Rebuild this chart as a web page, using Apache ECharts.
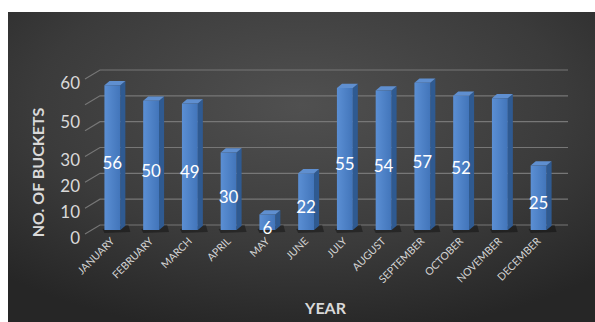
<!DOCTYPE html>
<html>
<head>
<meta charset="utf-8">
<script src="https://cdn.jsdelivr.net/npm/echarts@6/dist/echarts.min.js"></script>
<style>
html,body{margin:0;padding:0;background:#fff;width:595px;height:322px;overflow:hidden;}
#chart{position:absolute;left:8px;top:12px;width:587px;height:310px;}
</style>
</head>
<body>
<div id="chart"></div>
<script>
const months = ['JANUARY','FEBRUARY','MARCH','APRIL','MAY','JUNE','JULY','AUGUST','SEPTEMBER','OCTOBER','NOVEMBER','DECEMBER'];
const buckets = [56,50,49,30,6,22,55,54,57,52,51,25];
const hiddenValueLabels = ['NOVEMBER'];
const yTicks = [0,10,20,30,40,50,60];
const yTickLabels = ['0','10','20','30','','50','60'];
const xAxisTitle = 'YEAR';
const yAxisTitle = 'NO. OF BUCKETS';

const chart = echarts.init(document.getElementById('chart'), null, {renderer:'svg'});
const font = 'Lato, "Open Sans", sans-serif';

chart.setOption({
  backgroundColor: {
    type:'radial', x:0.5, y:0.3, r:0.75,
    colorStops:[{offset:0,color:'#505050'},{offset:0.6,color:'#3b3b3b'},{offset:1,color:'#262626'}]
  },
  animation:false,
  grid:{left:85, right:37, top:63, bottom:92},
  xAxis:{
    type:'category', data: months,
    name: xAxisTitle, nameLocation:'middle', nameGap:69,
    nameTextStyle:{color:'#d9d9d9', fontSize:16, fontWeight:'bold', fontFamily:font},
    axisLine:{show:false}, axisTick:{show:false},
    axisLabel:{interval:0, rotate:45, margin:9, color:'#d4d4d4', fontSize:10.5, fontFamily:font}
  },
  yAxis:{
    type:'value', min:0, max:60, interval:10,
    name: yAxisTitle, nameLocation:'middle', nameGap:48, nameRotate:90,
    nameTextStyle:{color:'#d9d9d9', fontSize:16, fontWeight:'bold', fontFamily:font, padding:[0,40,0,0]},
    axisLine:{show:false}, axisTick:{show:false}, splitLine:{show:false},
    axisLabel:{
      margin:13,
      formatter:function(v){
        const idx = yTicks.indexOf(v);
        const t = idx>=0 ? yTickLabels[idx] : '';
        if(!t) return '';
        return v===50 ? '{b|'+t+'}' : '{a|'+t+'}';
      },
      rich:{
        a:{color:'#d9d9d9', fontSize:17, fontFamily:font, padding:[14,0,0,0]},
        b:{color:'#d9d9d9', fontSize:17, fontFamily:font, padding:[42,0,0,0]}
      }
    }
  },
  series:[
    {
      type:'custom', z:1, clip:false, silent:true,
      data: yTicks.map(v=>[0,v]),
      renderItem:function(params, api){
        const cs = params.coordSys;
        const y = api.coord([0, api.value(1)])[1];
        return {
          type:'polyline',
          shape:{points:[[cs.x-8, y+4],[cs.x+7, y-5],[cs.x+cs.width+10, y-5]]},
          style:{stroke:'#777777', lineWidth:1.1, fill:null}
        };
      }
    },
    {
      type:'custom', z:3, clip:false,
      data: months.map((m,i)=>[i, buckets[i]]),
      renderItem:function(params, api){
        const i = api.value(0), v = api.value(1);
        const top = api.coord([i, v]);
        const base = api.coord([i, 0]);
        const band = api.size([1,0])[0];
        const w = band*0.41, dx = band*0.13, dy = band*0.11;
        const l = top[0]-w/2, r = top[0]+w/2;
        const t = top[1], b = base[1];
        const children = [
          {type:'polygon', shape:{points:[[l-2,b-1],[r+dx+3,b-dy-1],[r+dx+5,b+2],[l,b+3]]},
           style:{fill:'rgba(0,0,0,0.35)'}},
          {type:'polygon', shape:{points:[[r,t],[r+dx,t-dy],[r+dx,b-dy],[r,b]]},
           style:{fill:'#2f5a91'}},
          {type:'polygon', shape:{points:[[l,t],[l+dx,t-dy],[r+dx,t-dy],[r,t]]},
           style:{fill:'#5f8fd0'}},
          {type:'rect', shape:{x:l, y:t, width:w, height:b-t},
           style:{fill:{type:'linear',x:0,y:0,x2:1,y2:0,colorStops:[{offset:0,color:'#5b8fd4'},{offset:1,color:'#4275ba'}]}}}
        ];
        if(hiddenValueLabels.indexOf(months[i])<0){
          children.push({type:'text', style:{text:String(v), x:top[0], y:(t+b)/2+5, align:'center', verticalAlign:'middle',
            fill:'#ffffff', font:'17px '+font}});
        }
        return {type:'group', children:children};
      }
    }
  ]
});
</script>
</body>
</html>
